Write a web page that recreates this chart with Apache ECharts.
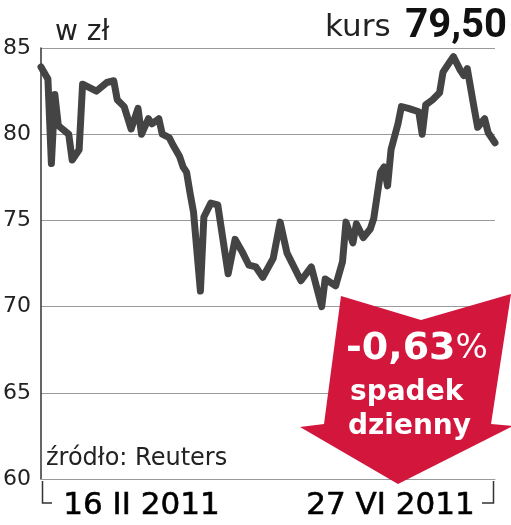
<!DOCTYPE html>
<html>
<head>
<meta charset="utf-8">
<script src="https://cdn.jsdelivr.net/npm/echarts@6/dist/echarts.min.js"></script>
<style>html,body{margin:0;padding:0;background:#fff}#c{width:511px;height:525px}</style>
</head>
<body>
<div id="c"></div>
<script>
const dates = ['2011-02-16','2011-02-18','2011-02-19','2011-02-20','2011-02-21','2011-02-24','2011-02-25','2011-02-27','2011-02-28','2011-03-04','2011-03-07','2011-03-09','2011-03-10','2011-03-12','2011-03-14','2011-03-16','2011-03-17','2011-03-19','2011-03-20','2011-03-22','2011-03-23','2011-03-25','2011-03-26','2011-03-28','2011-03-29','2011-03-30','2011-03-31','2011-04-01','2011-04-03','2011-04-04','2011-04-06','2011-04-08','2011-04-11','2011-04-13','2011-04-15','2011-04-17','2011-04-19','2011-04-21','2011-04-24','2011-04-26','2011-04-28','2011-05-02','2011-05-05','2011-05-08','2011-05-09','2011-05-12','2011-05-14','2011-05-15','2011-05-17','2011-05-18','2011-05-20','2011-05-22','2011-05-23','2011-05-25','2011-05-26','2011-05-27','2011-05-28','2011-05-30','2011-05-31','2011-06-02','2011-06-05','2011-06-06','2011-06-07','2011-06-09','2011-06-11','2011-06-12','2011-06-14','2011-06-15','2011-06-17','2011-06-18','2011-06-19','2011-06-21','2011-06-22','2011-06-24','2011-06-25','2011-06-27'];
const prices = [83.9,83.2,78.3,82.3,80.5,80.0,78.5,79.1,82.9,82.5,83.0,83.1,82.0,81.6,80.3,81.5,80.0,80.9,80.6,80.9,80.0,79.8,79.4,78.7,78.1,77.8,76.6,75.5,70.9,75.2,76.0,75.9,71.9,73.9,73.2,72.4,72.3,71.7,72.8,74.9,73.1,71.5,72.3,70.0,71.6,71.2,72.6,74.9,73.7,74.8,74.0,74.5,75.1,77.8,78.1,77.0,79.1,80.6,81.6,81.5,81.3,80.0,81.7,82.0,82.4,83.6,84.2,84.5,83.7,83.4,83.8,81.5,80.4,80.9,80.1,79.5];
const yTicks = [60,65,70,75,80,85];
const dateLabels = ['16 II 2011','27 VI 2011'];
const unitLabel = 'w zł';
const kursLabel = 'kurs';
const kursValue = '79,50';
const changeLabel = '-0,63';
const changeWords = ['spadek','dzienny'];
const sourceLabel = 'źródło: Reuters';

const chart = echarts.init(document.getElementById('c'), null, {renderer:'canvas'});
const red = '#d2163c';
const DJ = 'DejaVu Sans';
chart.setOption({
  animation:false,
  backgroundColor:'#fff',
  grid:{left:39, top:48, width:456, height:431},
  xAxis:{
    type:'time', min:dates[0], max:dates[dates.length-1],
    axisLine:{show:true, lineStyle:{color:'#9a9a9a', width:1}},
    axisTick:{show:false}, axisLabel:{show:false}, splitLine:{show:false}
  },
  yAxis:{
    type:'value', min:yTicks[0], max:yTicks[yTicks.length-1], interval:5,
    axisLine:{show:true, lineStyle:{color:'#333', width:1.5}},
    axisTick:{show:false},
    axisLabel:{color:'#222', fontFamily:DJ, fontSize:22, margin:10},
    splitLine:{show:true, lineStyle:{color:'#9a9a9a', width:1}}
  },
  series:[{
    type:'line', data:dates.map((d,i)=>[d,prices[i]]),
    showSymbol:false, symbol:'none',
    lineStyle:{color:'#444', width:7, join:'round', cap:'round'},
    z:3
  }],
  graphic:[
    {type:'text', left:55, top:19, style:{text:unitLabel, fontFamily:DJ, fontSize:28, fill:'#222'}},
    {type:'text', left:325, top:12, style:{text:kursLabel, fontFamily:DJ, fontSize:31, fill:'#222'}},
    {type:'text', right:4, top:7, style:{text:kursValue, fontFamily:'Roboto', fontWeight:'bold', fontSize:40, fill:'#111'}},
    {type:'text', left:46, top:447, z:5, style:{text:sourceLabel, fontFamily:DJ, fontSize:24, fill:'#222'}},
    {type:'text', left:63, top:490, style:{text:dateLabels[0], fontFamily:DJ, fontSize:31, fill:'#000', stroke:'#000', lineWidth:0.6}},
    {type:'text', right:36, top:490, style:{text:dateLabels[1], fontFamily:DJ, fontSize:31, fill:'#000', stroke:'#000', lineWidth:0.6}},
    {type:'polyline', shape:{points:[[42.5,481],[42.5,503],[52,503]]}, style:{stroke:'#333', lineWidth:1.5, fill:null}},
    {type:'polyline', shape:{points:[[482,503],[493.5,503],[493.5,481]]}, style:{stroke:'#333', lineWidth:1.5, fill:null}},
    {type:'polygon', z:10, shape:{points:[[341,296],[421,320],[511,294],[491,424],[513,426],[398,484],[300,427],[324,424]]}, style:{fill:red}},
    {type:'text', z:11, left:346, top:330, style:{rich:{a:{fontFamily:DJ, fontWeight:'bold', fontSize:38, fill:'#fff'}, b:{fontFamily:DJ, fontSize:34, fill:'#fff'}}, text:'{a|'+changeLabel+'}{b|%}'}},
    {type:'text', z:11, left:350, top:379, style:{text:changeWords[0], fontFamily:DJ, fontWeight:'bold', fontSize:28, fill:'#fff'}},
    {type:'text', z:11, left:348, top:413, style:{text:changeWords[1], fontFamily:DJ, fontWeight:'bold', fontSize:28, fill:'#fff'}}
  ]
});
</script>
</body>
</html>
